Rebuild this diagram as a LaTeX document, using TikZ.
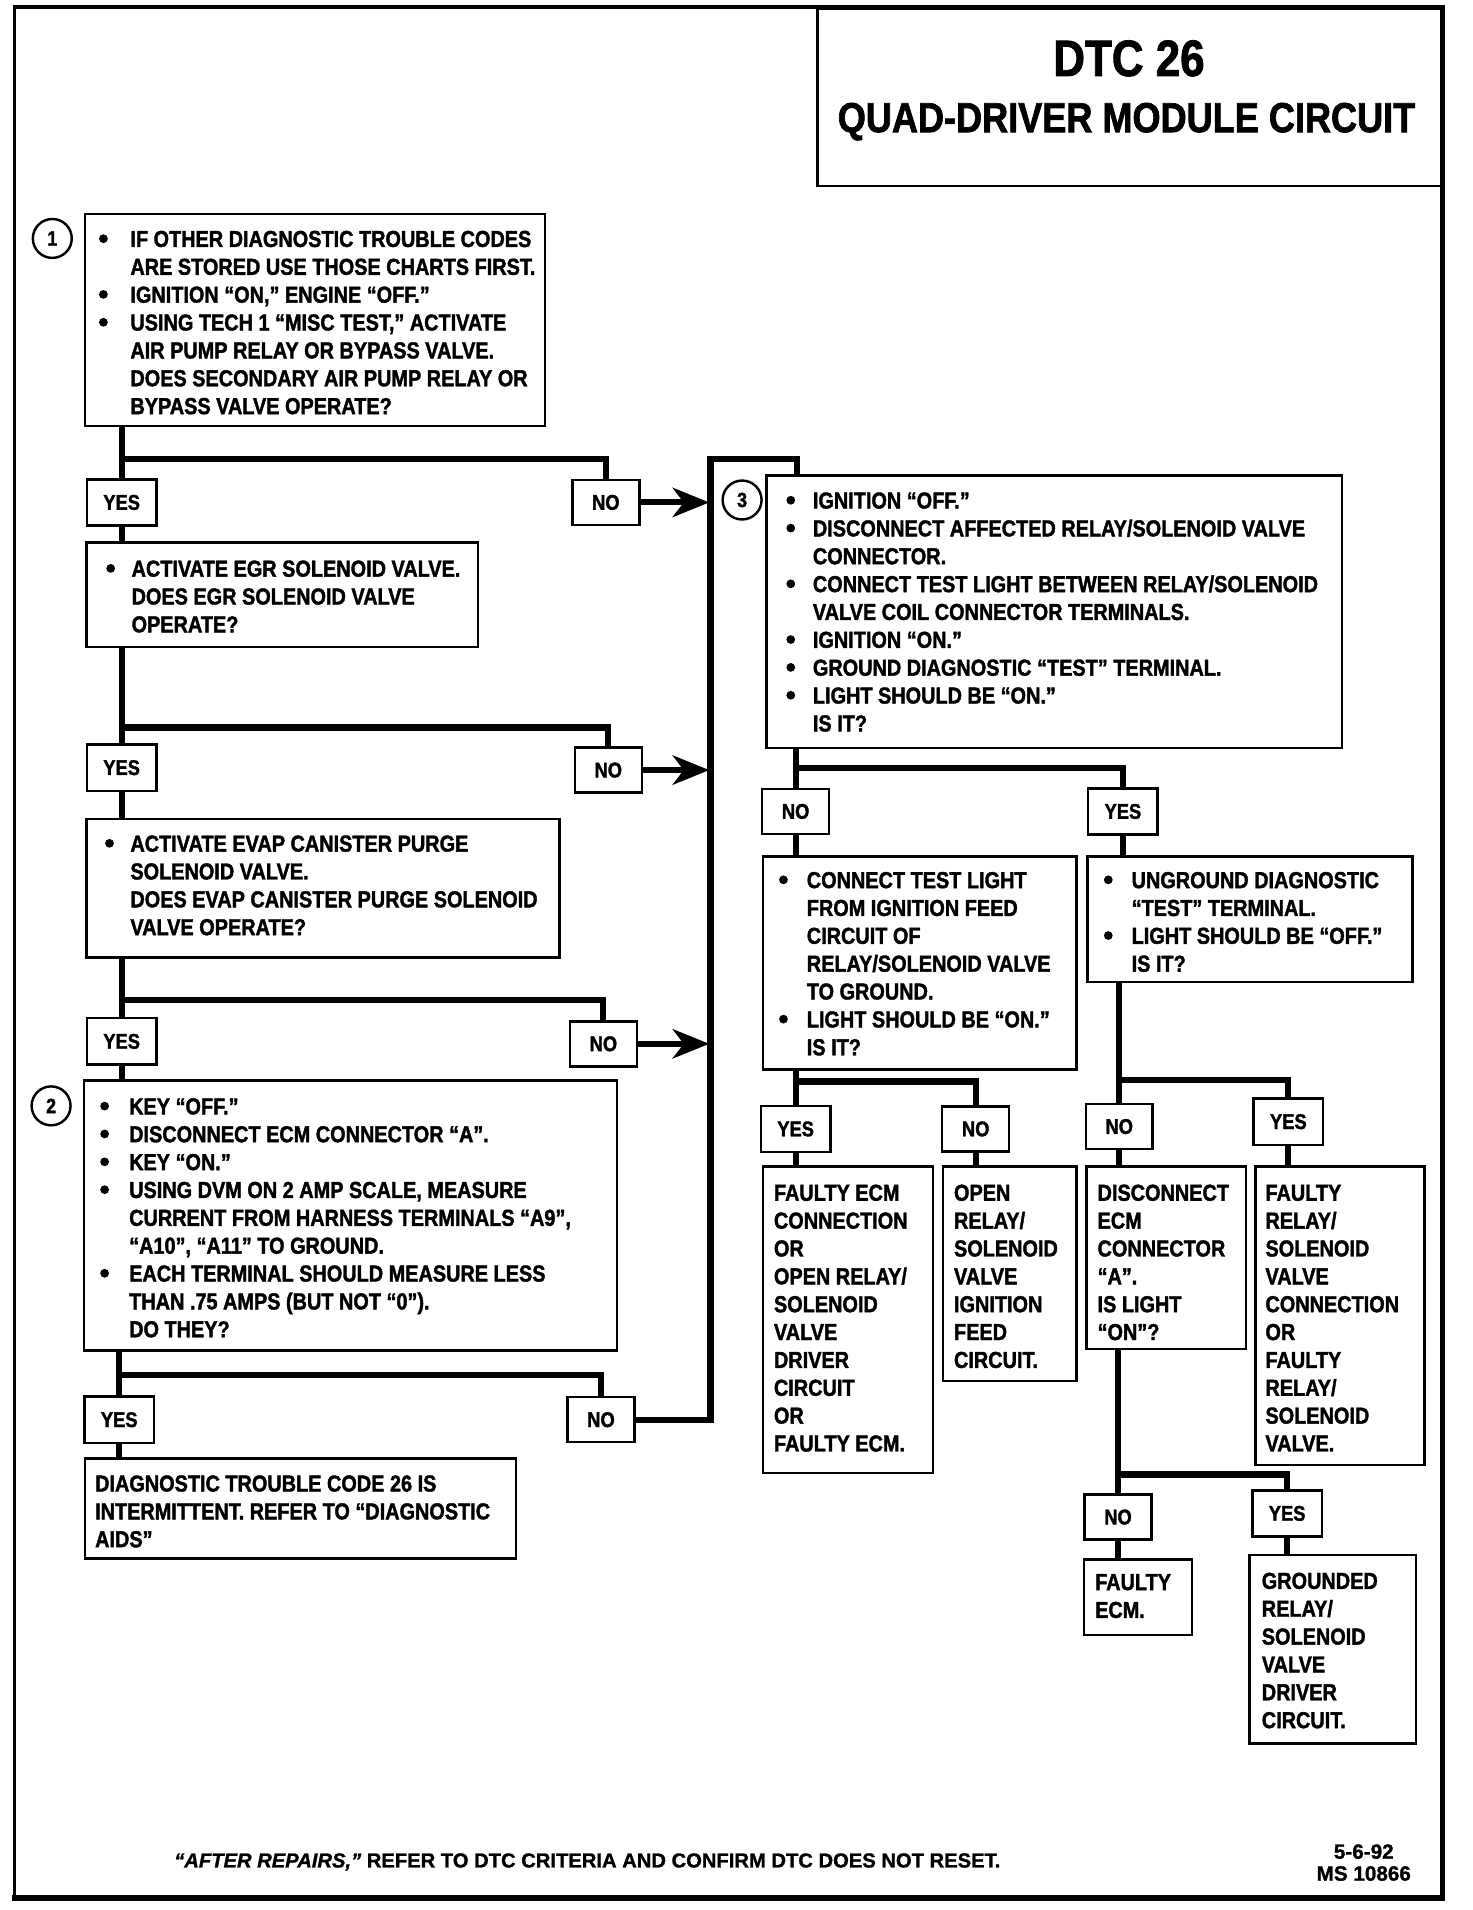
\documentclass[tikz,border=0pt]{standalone}
\usepackage{fontspec}
\setmainfont[FakeStretch=0.86, BoldFeatures={FakeBold=1.6}]{Liberation Sans}
\newfontfamily\footfont[BoldFeatures={FakeBold=1.2}, BoldItalicFeatures={FakeBold=1.2}]{Liberation Sans}
\usetikzlibrary{arrows.meta,calc}
\newcommand\dind[1]{\hspace*{#1pt}}
\tikzset{
  box/.style={draw, line width=2pt, rectangle, inner sep=0pt, anchor=north west},
  lbl/.style={draw, line width=2pt, inner sep=0pt, minimum width=57pt, minimum height=38pt, font=\bfseries\fontsize{17.5}{20}\selectfont},
  nolbl/.style={lbl, minimum width=55pt, minimum height=37pt},
  txt/.style={inner sep=0pt, anchor=base west, font=\bfseries\fontsize{19}{22.9}\selectfont},
  conn/.style={line width=5pt},
  arr/.style={line width=5pt, -{Stealth[length=30pt,width=24pt,inset=9pt]}},
  num/.style={draw, circle, line width=2pt, minimum size=32pt, inner sep=0pt, font=\bfseries\fontsize{17}{20}\selectfont}
}
\newcommand\dbox[5]{\node[box,minimum width={(#4-#2)*1pt},minimum height={(#5-#3)*1pt}] (#1) at (#2,#3) {};}
\newcommand\dtext[4]{\node[txt] (#1) at (#2,#3) {\vtop{\let\\\cr\halign{##\hfil\cr #4\crcr}}};}
% bullets: x, first baseline, list of line indices
\newcommand\dbullets[3]{\foreach \k in {#3} {\fill ({#1+4},{#2-6.8+22.9*\k}) circle (3.6pt);}}
\begin{document}
\begin{tikzpicture}[x=1pt,y=-1pt]
\useasboundingbox (0,0) rectangle (1210,1570);
% outer frame
\draw[line width=3pt] (12,5) -- (12,1562);
\draw[line width=3pt] (11,6) -- (1188,6);
\draw[line width=4pt] (1186,5) -- (1186,1562);
\draw[line width=5pt] (10,1560) -- (1188,1560);
% title
\dbox{tb}{671}{6}{1185}{152}
\node[font=\bfseries\fontsize{42}{46}\selectfont] (t1) at (928,48) {DTC 26};
\node[font=\bfseries\fontsize{34.5}{40}\selectfont] (t2) at (926,100) {QUAD-DRIVER MODULE CIRCUIT};

% ---------- left column ----------
\dbox{b1}{69}{175}{447}{349}
\node[num] (c1) at (43,196) {1};
\dtext{b1t}{81}{203}{\dind{26}IF OTHER DIAGNOSTIC TROUBLE CODES\\
\dind{26}ARE STORED USE THOSE CHARTS FIRST.\\
\dind{26}IGNITION “ON,”  ENGINE “OFF.”\\
\dind{26}USING TECH 1 “MISC TEST,” ACTIVATE\\
\dind{26}AIR PUMP RELAY OR BYPASS VALVE.\\
\dind{26}DOES SECONDARY AIR PUMP RELAY OR\\
\dind{26}BYPASS VALVE OPERATE?}
\dbullets{81}{203}{0,2,3}

\node[lbl] (y1) at (100,413) {YES};
\node[nolbl] (n1) at (498,413) {NO};

\dbox{egr}{70}{445}{392}{531}
\dtext{egrt}{87}{474}{\dind{21}ACTIVATE EGR SOLENOID VALVE.\\
\dind{21}DOES EGR SOLENOID VALVE\\
\dind{21}OPERATE?}
\dbullets{87}{474}{0}

\node[lbl] (y2) at (100,631) {YES};
\node[nolbl] (n2) at (500,633) {NO};

\dbox{evap}{70}{672}{459}{786}
\dtext{evapt}{86}{700}{\dind{21}ACTIVATE EVAP CANISTER PURGE\\
\dind{21}SOLENOID VALVE.\\
\dind{21}DOES EVAP CANISTER PURGE SOLENOID\\
\dind{21}VALVE OPERATE?}
\dbullets{86}{700}{0}

\node[lbl] (y3) at (100,856) {YES};
\node[nolbl] (n3) at (496,858) {NO};

\dbox{b2}{68}{887}{506}{1109}
\node[num] (c2) at (42,909) {2};
\dtext{b2t}{82}{916}{\dind{24}KEY “OFF.”\\
\dind{24}DISCONNECT ECM CONNECTOR “A”.\\
\dind{24}KEY “ON.”\\
\dind{24}USING DVM ON 2 AMP SCALE, MEASURE\\
\dind{24}CURRENT FROM HARNESS TERMINALS “A9”,\\
\dind{24}“A10”, “A11” TO GROUND.\\
\dind{24}EACH TERMINAL SHOULD MEASURE LESS\\
\dind{24}THAN .75 AMPS (BUT NOT “0”).\\
\dind{24}DO THEY?}
\dbullets{82}{916}{0,1,2,3,6}

\node[lbl] (y4) at (98,1167) {YES};
\node[nolbl] (n4) at (494,1167) {NO};

\dbox{fin}{69}{1198}{423}{1280}
\dtext{fint}{78}{1226}{DIAGNOSTIC TROUBLE CODE 26 IS\\
INTERMITTENT.  REFER TO “DIAGNOSTIC\\
AIDS”}

% ---------- right part ----------
\dbox{b3}{629}{390}{1102}{614}
\node[num] (c3) at (610,411) {3};
\dtext{b3t}{646}{418}{\dind{22}IGNITION “OFF.”\\
\dind{22}DISCONNECT AFFECTED RELAY/SOLENOID VALVE\\
\dind{22}CONNECTOR.\\
\dind{22}CONNECT TEST LIGHT BETWEEN RELAY/SOLENOID\\
\dind{22}VALVE COIL CONNECTOR TERMINALS.\\
\dind{22}IGNITION “ON.”\\
\dind{22}GROUND DIAGNOSTIC “TEST” TERMINAL.\\
\dind{22}LIGHT SHOULD BE “ON.”\\
\dind{22}IS IT?}
\dbullets{646}{418}{0,1,3,5,6,7}

\node[nolbl] (n5) at (654,667) {NO};
\node[lbl] (y5) at (923,667) {YES};

\dbox{b4a}{626}{703}{884}{878}
\dtext{b4at}{640}{730}{\dind{23}CONNECT TEST LIGHT\\
\dind{23}FROM IGNITION FEED\\
\dind{23}CIRCUIT OF\\
\dind{23}RELAY/SOLENOID VALVE\\
\dind{23}TO GROUND.\\
\dind{23}LIGHT SHOULD BE “ON.”\\
\dind{23}IS IT?}
\dbullets{640}{730}{0,5}

\dbox{b4b}{893}{703}{1160}{806}
\dtext{b4bt}{907}{730}{\dind{23}UNGROUND DIAGNOSTIC\\
\dind{23}“TEST” TERMINAL.\\
\dind{23}LIGHT SHOULD BE “OFF.”\\
\dind{23}IS IT?}
\dbullets{907}{730}{0,2}

\node[lbl] (y6) at (654,928) {YES};
\node[nolbl] (n6) at (802,928) {NO};
\node[nolbl] (n7) at (920,926) {NO};
\node[lbl] (y7) at (1059,922) {YES};

\dbox{fe}{626}{958}{766}{1210}
\dtext{fet}{636}{987}{FAULTY ECM\\CONNECTION\\OR\\OPEN RELAY/\\SOLENOID\\VALVE\\DRIVER\\CIRCUIT\\OR\\FAULTY ECM.}

\dbox{op}{774}{958}{884}{1134}
\dtext{opt}{784}{987}{OPEN\\RELAY/\\SOLENOID\\VALVE\\IGNITION\\FEED\\CIRCUIT.}

\dbox{dis}{892}{958}{1023}{1108}
\dtext{dist}{902}{987}{DISCONNECT\\ECM\\CONNECTOR\\“A”.\\IS LIGHT\\“ON”?}

\dbox{fr}{1031}{958}{1170}{1203}
\dtext{frt}{1040}{987}{FAULTY\\RELAY/\\SOLENOID\\VALVE\\CONNECTION\\OR\\FAULTY\\RELAY/\\SOLENOID\\VALVE.}

\node[nolbl] (n8) at (919,1247) {NO};
\node[lbl] (y8) at (1058,1244) {YES};

\dbox{fe2}{890}{1281}{979}{1343}
\dtext{fe2t}{900}{1307}{FAULTY\\ECM.}

\dbox{gr}{1026}{1277}{1163}{1432}
\dtext{grt}{1037}{1306}{GROUNDED\\RELAY/\\SOLENOID\\VALVE\\DRIVER\\CIRCUIT.}

% ---------- connectors ----------
\coordinate (j1) at (100,377);
\coordinate (j2) at (100,598);
\coordinate (j3) at (100,822);
\coordinate (j4) at (98,1130);
\coordinate (vtop) at (584,377);
\coordinate (k3) at (655,377);
\coordinate (j5) at (654,631);
\coordinate (j6) at (654,889);
\coordinate (j7) at (920,888);
\coordinate (j8) at (919,1212);

\draw[conn] (b1.south -| y1) -- (y1.north);
\draw[conn] (j1) -| (n1.north);
\draw[conn] (y1.south) -- (egr.north -| y1);
\draw[conn] (egr.south -| y2) -- (y2.north);
\draw[conn] (j2) -| (n2.north);
\draw[conn] (y2.south) -- (evap.north -| y2);
\draw[conn] (evap.south -| y3) -- (y3.north);
\draw[conn] (j3) -| (n3.north);
\draw[conn] (y3.south) -- (b2.north -| y3);
\draw[conn] (b2.south -| y4) -- (y4.north);
\draw[conn] (j4) -| (n4.north);
\draw[conn] (y4.south) -- (fin.north -| y4);

\draw[arr] (n1.east) -- ([xshift=-1pt]n1.east -| vtop);
\draw[arr] (n2.east) -- ([xshift=-1pt]n2.east -| vtop);
\draw[arr] (n3.east) -- ([xshift=-1pt]n3.east -| vtop);
\draw[conn] (n4.east) -| (vtop) -- (k3) -- (k3 |- b3.north);

\draw[conn] (b3.south -| n5) -- (n5.north);
\draw[conn] (j5) -| (y5.north);
\draw[conn] (n5.south) -- (b4a.north -| n5);
\draw[conn] (y5.south) -- (b4b.north -| y5);

\draw[conn] (b4a.south -| y6) -- (y6.north);
\draw[conn] (j6) -| (n6.north);
\draw[conn] (y6.south) -- (fe.north -| y6);
\draw[conn] (n6.south) -- (op.north -| n6);

\draw[conn] (b4b.south -| n7) -- (n7.north);
\draw[conn] (j7) -| (y7.north);
\draw[conn] (n7.south) -- (dis.north -| n7);
\draw[conn] (y7.south) -- (fr.north -| y7);

\draw[conn] (dis.south -| n8) -- (n8.north);
\draw[conn] (j8) -| (y8.north);
\draw[conn] (n8.south) -- (fe2.north -| n8);
\draw[conn] (y8.south) -- (gr.north -| y8);

% ---------- footer ----------
\node[anchor=base west, inner sep=0pt, font=\footfont\bfseries\fontsize{16.6}{19}\selectfont] (foot) at (143,1535) {\textit{“AFTER REPAIRS,”} REFER TO DTC CRITERIA  AND CONFIRM DTC DOES NOT RESET.};
\node[align=center, inner sep=0pt, font=\footfont\bfseries\fontsize{17}{18}\selectfont] (ms) at (1121,1531) {5-6-92\\MS 10866};
\end{tikzpicture}
\end{document}
